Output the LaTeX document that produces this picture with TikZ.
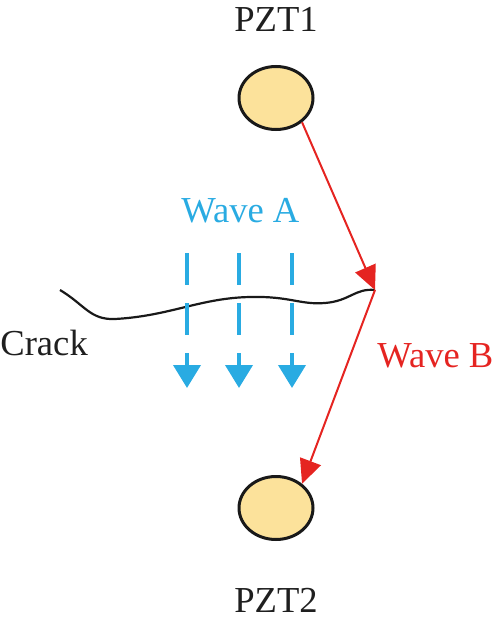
\documentclass[tikz,border=0pt]{standalone}
\usepackage{fontspec}
\newfontfamily\timesfont{LiberationSerif-Regular.ttf}
\usepackage{tikz}
\usetikzlibrary{arrows.meta,positioning,shapes.geometric}
\definecolor{pztfill}{HTML}{FCE29B}
\definecolor{waveared}{HTML}{E52421}
\definecolor{waveblue}{HTML}{29ABE2}

\begin{document}
\begin{tikzpicture}[x=0.5pt, y=-0.5pt,
  font=\timesfont\fontsize{18.3pt}{22pt}\selectfont,
  pzt/.style={ellipse, draw=black!90, line width=1.5pt, fill=pztfill,
              minimum width=37pt, minimum height=31.5pt, inner sep=0pt},
  lbl/.style={inner sep=0pt, text=black!88},
  waveb/.style={-{Triangle[length=12pt, width=11pt]}, line width=1pt, draw=waveared},
  wavea/.style={-{Triangle[length=11.5pt, width=13.5pt]}, line width=2pt, draw=waveblue,
                dash pattern=on 16pt off 9pt},
  crack/.style={line width=1.1pt, draw=black!90}]
  \useasboundingbox (0,0) rectangle (500,621);
  \node[pzt] (pzt1) at (276,98) {};
  \node[pzt] (pzt2) at (276,508) {};
  \node[lbl, above=16.5pt of pzt1] (pzt1lbl) {PZT1};
  \node[lbl, below=23.5pt of pzt2] (pzt2lbl) {PZT2};
  \coordinate (tip) at (375,290);
  % crack
  \draw[crack] (60,290) .. controls (85,305) and (90,320) .. (115,319)
    .. controls (170,316) and (200,298) .. (250,297)
    .. controls (290,296) and (300,305) .. (325,303)
    .. controls (350,301) and (355,288) .. (tip);
  \node[lbl, anchor=base west] (cracklbl) at (0,355) {Crack};
  % wave A
  \node[lbl, anchor=base west, text=waveblue] (walbl) at (181,222) {Wave A};
  \foreach \x [count=\i] in {187,239,292} {
    \coordinate (wa\i) at (\x,253);
    \coordinate (wb\i) at (\x,388);
    \draw[wavea] (wa\i) -- (wb\i);
  }
  % wave B
  \node[lbl, anchor=base west, text=waveared] (wblbl) at (377,367) {Wave B};
  \draw[waveb] (pzt1.-43) -- (tip);
  \draw[waveb] (tip) -- (pzt2.43);
\end{tikzpicture}
\end{document}
